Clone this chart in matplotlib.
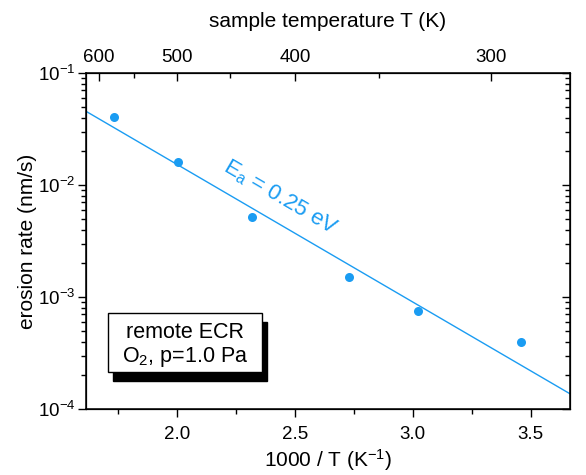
import numpy as np
import matplotlib
matplotlib.use("Agg")
import matplotlib.pyplot as plt
from matplotlib.ticker import FixedLocator, NullFormatter, LogLocator, MultipleLocator
from matplotlib.patches import Rectangle

plt.rcParams['font.family'] = ['Liberation Sans', 'DejaVu Sans']
plt.rcParams['mathtext.fontset'] = 'custom'
plt.rcParams['mathtext.rm'] = 'Liberation Sans'
plt.rcParams['mathtext.it'] = 'Liberation Sans:italic'
plt.rcParams['mathtext.bf'] = 'Liberation Sans:bold'

# data (1000/T in 1/K, erosion rate in nm/s)
inv_T = [1.732, 2.002, 2.318, 2.7275, 3.021, 3.458]
rate = [0.0405, 0.0161, 0.00515, 0.0015, 0.000755, 0.000399]

# Arrhenius fit: log10(rate) = fit_log0 + fit_slope * (x - fit_x0)
fit_x0 = 1.609
fit_log0 = -1.337
fit_slope = -1.228
fit_x = [1.609, 3.667]

top_major_T = [600, 500, 400, 300]
top_minor_T = [550, 450, 350]

blue = '#1a9cf2'
W, H = 586, 475

fig = plt.figure(figsize=(W / 100, H / 100), dpi=100)
ax = fig.add_axes([86 / W, 1 - 409 / H, (570 - 86) / W, (409 - 73) / H])

ax.plot(inv_T, rate, 'o', color=blue, ms=6.5, mec='none', zorder=3)
fx = np.array(fit_x)
ax.plot(fx, 10 ** (fit_log0 + fit_slope * (fx - fit_x0)), '-', color=blue, lw=1.0)

ax.set_yscale('log')
ax.set_xlim(1.613, 3.667)
ax.set_ylim(1e-4, 1e-1)

ax.xaxis.set_major_locator(MultipleLocator(0.5))
ax.xaxis.set_minor_locator(MultipleLocator(0.25))
ax.yaxis.set_major_locator(LogLocator(base=10, numticks=10))
ax.yaxis.set_minor_locator(LogLocator(base=10, subs=np.arange(2, 10), numticks=10))
ax.yaxis.set_minor_formatter(NullFormatter())

ax.tick_params(axis='x', which='both', direction='out', top=False, labelsize=13.5, pad=6)
ax.tick_params(axis='y', which='both', direction='out', right=False, labelsize=13.5, pad=1.5)
ax.tick_params(which='major', length=6, width=1)
ax.tick_params(which='minor', length=3.5, width=1)

for s in ax.spines.values():
    s.set_linewidth(1.1)

ax.set_xlabel('1000 / T (K$^{-1}$)', fontsize=15, labelpad=3)
ax.set_ylabel('erosion rate (nm/s)', fontsize=15, labelpad=1)

# right axis mirror ticks inward
axr = ax.twinx()
axr.set_yscale('log')
axr.set_ylim(ax.get_ylim())
axr.yaxis.set_major_locator(LogLocator(base=10, numticks=10))
axr.yaxis.set_minor_locator(LogLocator(base=10, subs=np.arange(2, 10), numticks=10))
axr.tick_params(axis='y', which='both', direction='in', labelright=False)
axr.tick_params(which='major', length=6, width=1)
axr.tick_params(which='minor', length=3.5, width=1)

# top temperature axis
axt = ax.twiny()
axt.set_xlim(ax.get_xlim())
axt.xaxis.set_major_locator(FixedLocator([1000.0 / t for t in top_major_T]))
axt.xaxis.set_minor_locator(FixedLocator([1000.0 / t for t in top_minor_T]))
axt.set_xticklabels([str(t) for t in top_major_T])
axt.tick_params(axis='x', which='both', direction='in', labelsize=13.5, pad=5)
axt.tick_params(which='major', length=6, width=1)
axt.tick_params(which='minor', length=3.5, width=1)
axt.set_xlabel('sample temperature T (K)', fontsize=15, labelpad=16)

# activation energy label
xl = 2.435
ax.text(xl, 10 ** (fit_log0 + fit_slope * (xl - fit_x0)) * 1.75,
        r'$\mathregular{E_a}$ = 0.25 eV', color=blue, fontsize=16,
        rotation=-30.3, rotation_mode='anchor', ha='center', va='center')

# legend box with shadow
bx, by, bw, bh = 108 / W, 1 - 372 / H, 154 / W, 59 / H
fig.patches.append(Rectangle((bx + 5 / W, by - 9 / H), bw, bh, transform=fig.transFigure,
                             facecolor='black', edgecolor='black', zorder=5))
fig.patches.append(Rectangle((bx, by), bw, bh, transform=fig.transFigure,
                             facecolor='white', edgecolor='black', lw=1, zorder=6))
fig.text(bx + bw / 2, 1 - 332 / H, 'remote ECR', ha='center', va='center', fontsize=15.5, zorder=7)
fig.text(bx + bw / 2, 1 - 357 / H, r'O$_2$, p=1.0 Pa', ha='center', va='center', fontsize=15.5, zorder=7)

fig.savefig('out.png', dpi=100)
